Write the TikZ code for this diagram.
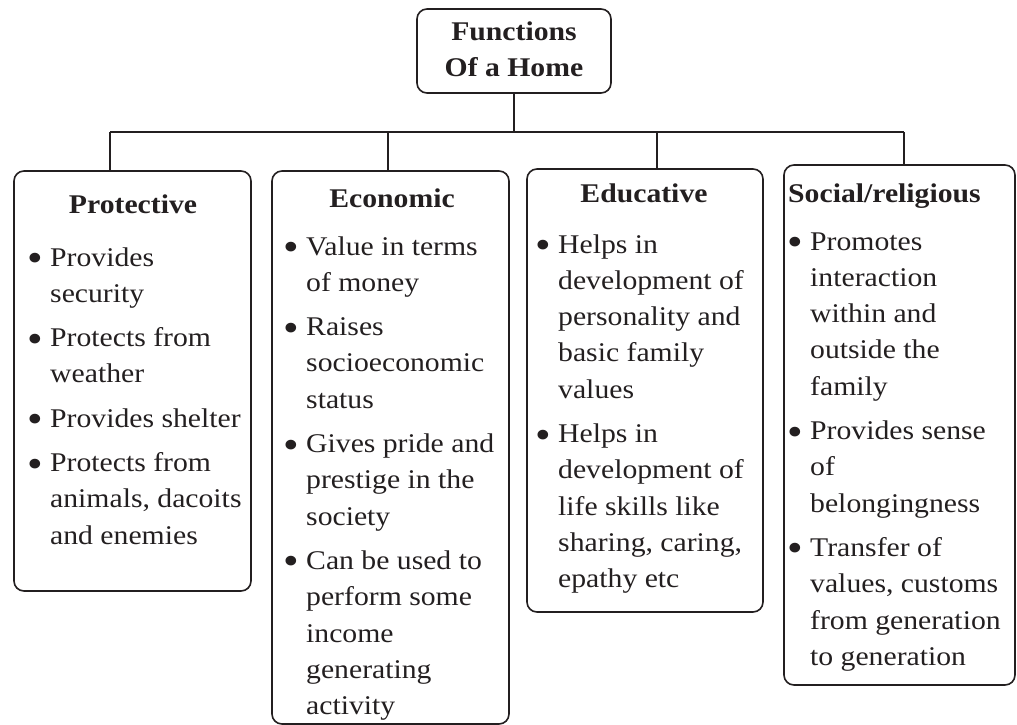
\documentclass[tikz,border=0pt]{standalone}
\usepackage{fontspec}
\setmainfont{Liberation Serif}[FakeStretch=1.1]
\definecolor{ink}{HTML}{231F20}
\newcommand{\bl}{\makebox[23pt][l]{\raisebox{-5.5pt}{\scalebox{1.5}{\textbullet}}}}
\newcommand{\ct}{\hspace*{23pt}}
\tikzset{
  box/.style={draw=ink, line width=1.6pt, rounded corners=10pt, inner sep=0pt, outer sep=0pt},
  wire/.style={draw=ink, line width=1.6pt},
  head/.style={anchor=base, inner sep=0pt, font=\fontsize{27}{36.3}\selectfont\bfseries, text=ink},
  body/.style={anchor=base west, inner sep=0pt, font=\fontsize{27}{36.3}\selectfont, text=ink},
}
\begin{document}
\begin{tikzpicture}[x=1pt, y=-1pt]
\useasboundingbox (0,0) rectangle (1017,725);
% top
\node[box, minimum width=194pt, minimum height=84pt, font=\fontsize{27}{36.3}\selectfont\bfseries, text=ink] (top) at (514,51)
  {\begin{tabular}{@{}c@{}}Functions\\Of a Home\end{tabular}};
% boxes
\node[box, minimum width=237pt, minimum height=420pt] (prot) at (132.5,381) {};
\node[box, minimum width=237pt, minimum height=553pt] (econ) at (390.5,447.5) {};
\node[box, minimum width=236pt, minimum height=443pt] (educ) at (645,390.5) {};
\node[box, minimum width=231pt, minimum height=520pt] (soc) at (899.5,425) {};
% connectors
\coordinate (hub) at (0,132);
\coordinate (b1) at (110,132);
\coordinate (b2) at (388,132);
\coordinate (b3) at (657,132);
\coordinate (b4) at (904,132);
\draw[wire] (top.south) -- (top.south |- hub);
\draw[wire] (b1) -- (b4);
\draw[wire] (b1) -- (b1 |- prot.north);
\draw[wire] (b2) -- (b2 |- econ.north);
\draw[wire] (b3) -- (b3 |- educ.north);
\draw[wire] (b4) -- (b4 |- soc.north);
% headings
\node[head] (h1) at (133,213) {Protective};
\node[head] (h2) at (392,207) {Economic};
\node[head] (h3) at (644,202) {Educative};
\node[head, anchor=base west] (h4) at (788,202) {Social/religious};
% bodies
\node[body] (t1) at (27,266) {\begin{tabular}[t]{@{}l@{}}
\bl Provides\\ \ct security\\[8pt]
\bl Protects from\\ \ct weather\\[8pt]
\bl Provides shelter\\[8pt]
\bl Protects from\\ \ct animals, dacoits\\ \ct and enemies
\end{tabular}};
\node[body] (t2) at (283,255) {\begin{tabular}[t]{@{}l@{}}
\bl Value in terms\\ \ct of money\\[8pt]
\bl Raises\\ \ct socioeconomic\\ \ct status\\[8pt]
\bl Gives pride and\\ \ct prestige in the\\ \ct society\\[8pt]
\bl Can be used to\\ \ct perform some\\ \ct income\\ \ct generating\\ \ct activity
\end{tabular}};
\node[body] (t3) at (535,253) {\begin{tabular}[t]{@{}l@{}}
\bl Helps in\\ \ct development of\\ \ct personality and\\ \ct basic family\\ \ct values\\[8pt]
\bl Helps in\\ \ct development of\\ \ct life skills like\\ \ct sharing, caring,\\ \ct epathy etc
\end{tabular}};
\node[body] (t4) at (787,250) {\begin{tabular}[t]{@{}l@{}}
\bl Promotes\\ \ct interaction\\ \ct within and\\ \ct outside the\\ \ct family\\[8pt]
\bl Provides sense\\ \ct of\\ \ct belongingness\\[8pt]
\bl Transfer of\\ \ct values, customs\\ \ct from generation\\ \ct to generation
\end{tabular}};
\end{tikzpicture}
\end{document}
